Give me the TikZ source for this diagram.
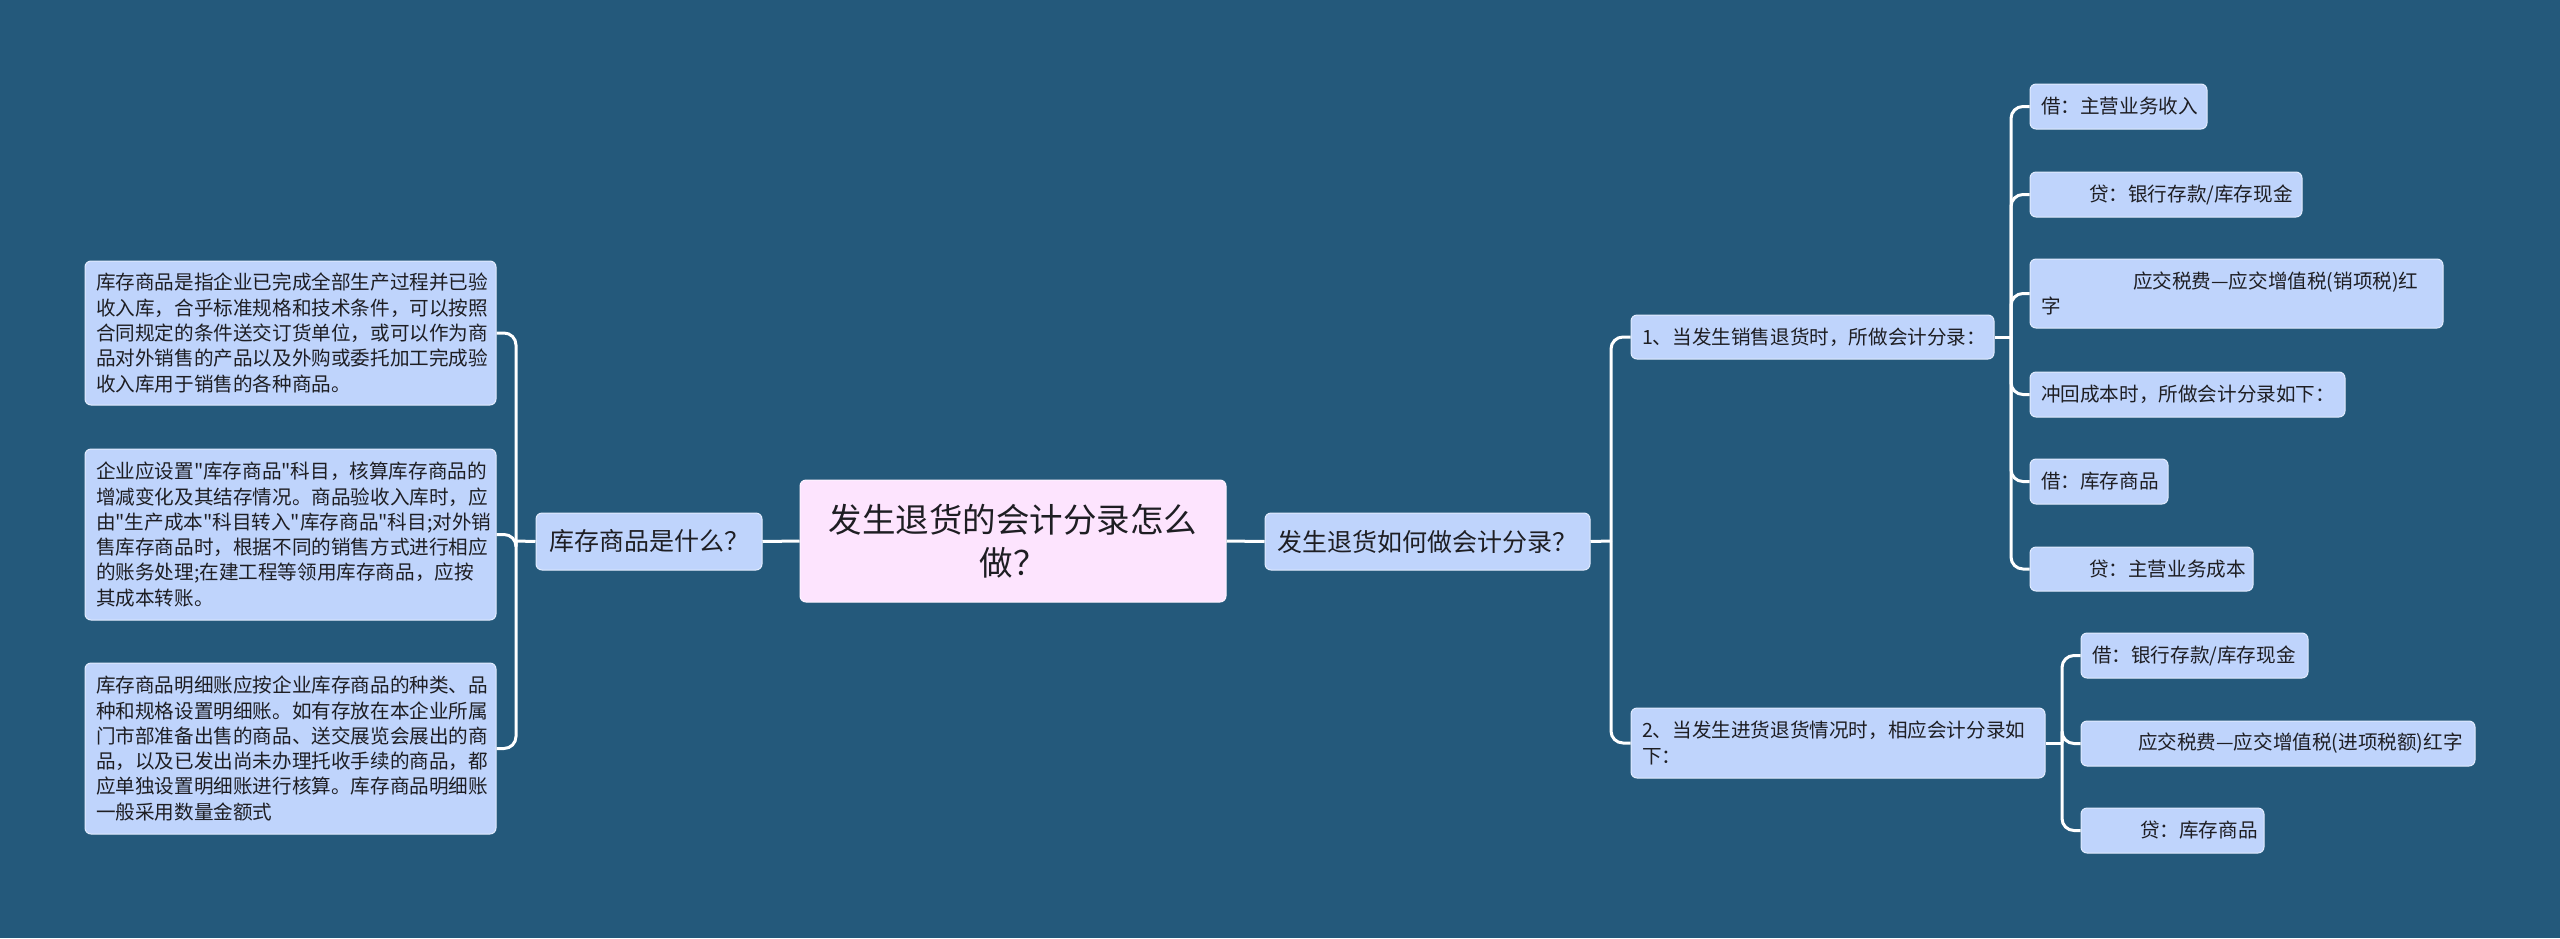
\documentclass[tikz,border=0pt]{standalone}
\usepackage{fontspec}
\setmainfont{Noto Sans CJK SC}[Ligatures=TeXOff]
\setlength{\parindent}{0pt}
\definecolor{bg}{RGB}{36,89,123}
\definecolor{leafc}{RGB}{191,212,252}
\definecolor{rootc}{RGB}{253,228,254}
\definecolor{ink}{RGB}{30,30,35}
\begin{document}
\begin{tikzpicture}[x=0.5pt,y=-0.5pt,
  leafbox/.style={rectangle, rounded corners=3pt, fill=leafc, draw=white!55!leafc, line width=0.5pt, text=ink, inner xsep=5.5pt, inner ysep=0pt, align=left, font=\fontsize{9.8}{12.65}\selectfont},
  midbox/.style={rectangle, rounded corners=3pt, fill=leafc, draw=white!55!leafc, line width=0.5pt, text=ink, inner sep=0pt, align=center, font=\fontsize{12.5}{15}\selectfont},
  rootbox/.style={rectangle, rounded corners=3pt, fill=rootc, draw=white!60!rootc, line width=0.5pt, text=ink, inner sep=0pt, align=center, font=\fontsize{16.75}{21.2}\selectfont},
  conn/.style={draw=white, line width=1.5pt, rounded corners=6pt},
]
\useasboundingbox (0,0) rectangle (2560,938);
\fill[bg] (0,0) rectangle (2560,938);

% root and level 1
\node[rootbox, minimum width=213pt, minimum height=61pt, text width=200pt] (root) at (1013,541) {发生退货的会计分录怎么\\做？};
\node[midbox, minimum width=113pt, minimum height=28.5pt, text width=110pt] (L1) at (649,541.5) {库存商品是什么？};
\node[midbox, minimum width=162.5pt, minimum height=28.5pt, text width=160pt] (R1) at (1427.5,541.5) {发生退货如何做会计分录？};

% left leaves
\node[leafbox, minimum height=72pt, text width=194.5pt] (a1) at (290.5,333) {库存商品是指企业已完成全部生产过程并已验\\收入库，合乎标准规格和技术条件，可以按照\\合同规定的条件送交订货单位，或可以作为商\\品对外销售的产品以及外购或委托加工完成验\\收入库用于销售的各种商品。};
\node[leafbox, minimum height=85.5pt, text width=194.5pt] (a2) at (290.5,534.5) {\mbox{企业应设置"库存商品"科目，核算库存商品的}\\\mbox{增减变化及其结存情况。商品验收入库时，应}\\\mbox{由"生产成本"科目转入"库存商品"科目;对外销}\\\mbox{售库存商品时，根据不同的销售方式进行相应}\\\mbox{的账务处理;在建工程等领用库存商品，应按}\\\mbox{其成本转账。}};
\node[leafbox, minimum height=85.5pt, text width=194.5pt] (a3) at (290.5,748.5) {库存商品明细账应按企业库存商品的种类、品\\种和规格设置明细账。如有存放在本企业所属\\门市部准备出售的商品、送交展览会展出的商\\品，以及已发出尚未办理托收手续的商品，都\\应单独设置明细账进行核算。库存商品明细账\\一般采用数量金额式};

% right level 2
\node[leafbox, minimum height=22pt, text width=170.5pt] (R2a) at (1812.5,337) {\mbox{1、当发生销售退货时，所做会计分录：}};
\node[leafbox, minimum height=35pt, text width=196pt] (R2b) at (1838,743) {\mbox{2、当发生进货退货情况时，相应会计分录如}\\下：};

% right level 3 (first group)
\node[leafbox, minimum height=22.5pt, text width=77.5pt] (c1) at (2118.5,106.5) {\mbox{借：主营业务收入}};
\node[leafbox, minimum height=22.5pt, text width=125pt] (c2) at (2166,194.5) {\mbox{\hspace*{24pt}贷：银行存款/库存现金}};
\node[leafbox, minimum height=34.5pt, text width=195.5pt] (c3) at (2236.5,293.5) {\mbox{\hspace*{46pt}应交税费—应交增值税(销项税)红}\\字};
\node[leafbox, minimum height=22.5pt, text width=146.5pt] (c4) at (2187.5,394.5) {\mbox{冲回成本时，所做会计分录如下：}};
\node[leafbox, minimum height=22.5pt, text width=58pt] (c5) at (2099,481.5) {\mbox{借：库存商品}};
\node[leafbox, minimum height=22pt, text width=100.5pt] (c6) at (2141.5,569) {\mbox{\hspace*{24pt}贷：主营业务成本}};

% right level 3 (second group)
\node[leafbox, minimum height=22.5pt, text width=102.5pt] (d1) at (2194.5,655.5) {\mbox{借：银行存款/库存现金}};
\node[leafbox, minimum height=22.5pt, text width=186pt] (d2) at (2278,743.5) {\mbox{\hspace*{23pt}应交税费—应交增值税(进项税额)红字}};
\node[leafbox, minimum height=22.5pt, text width=80.5pt] (d3) at (2172.5,830.5) {\mbox{\hspace*{24pt}贷：库存商品}};

% connectors
\draw[conn] (root.west) -- (L1.east);
\draw[conn] (root.east) -- (R1.west);

\coordinate (lb) at (516,541);
\draw[conn] (L1.west) -- (lb);
\draw[conn] (lb) |- (a1.east);
\draw[conn] (lb) |- (a2.east);
\draw[conn] (lb) |- (a3.east);

\coordinate (rb) at (1611,541);
\draw[conn] (R1.east) -- (rb);
\draw[conn] (rb) |- (R2a.west);
\draw[conn] (rb) |- (R2b.west);

\coordinate (rb1) at (2011,337);
\draw[conn] (R2a.east) -- (rb1);
\foreach \n in {c1,c2,c3,c4,c5,c6} \draw[conn] (rb1) |- (\n.west);

\coordinate (rb2) at (2062,743);
\draw[conn] (R2b.east) -- (rb2);
\foreach \n in {d1,d2,d3} \draw[conn] (rb2) |- (\n.west);
\end{tikzpicture}
\end{document}
